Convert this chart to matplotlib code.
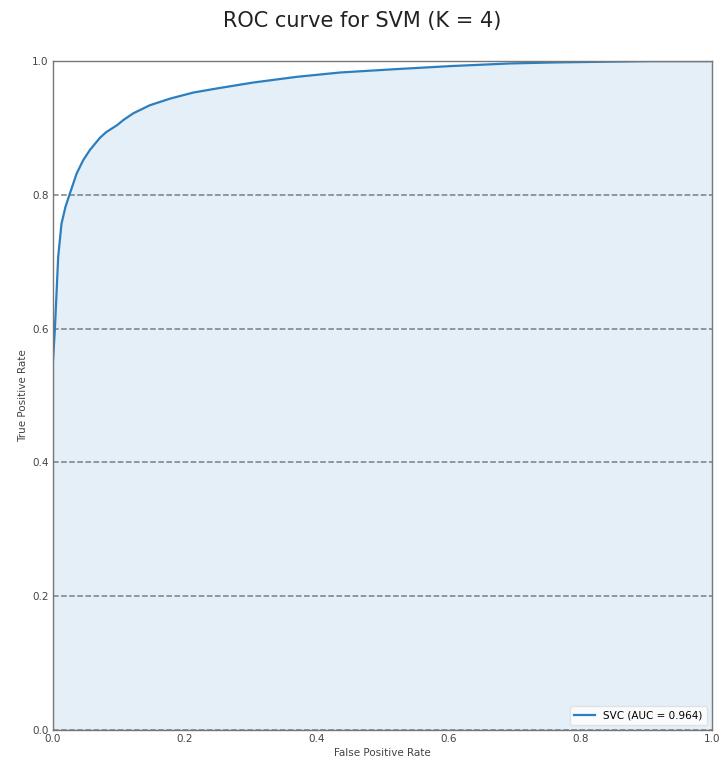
import numpy as np
import matplotlib
matplotlib.use('Agg')
import matplotlib.pyplot as plt

# ROC points
fpr = [0.0, 0.0, 0.0, 0.003, 0.008, 0.013, 0.019, 0.025, 0.036, 0.046, 0.056,
       0.071, 0.081, 0.097, 0.107, 0.122, 0.147, 0.178, 0.213, 0.248, 0.279,
       0.304, 0.339, 0.370, 0.436, 0.52, 0.602, 0.693, 0.76, 0.83, 0.906, 1.0]
tpr = [0.0, 0.4, 0.55, 0.6, 0.7075, 0.757, 0.782, 0.8, 0.832, 0.852, 0.867,
       0.885, 0.894, 0.904, 0.912, 0.922, 0.934, 0.944, 0.953, 0.959, 0.964,
       0.968, 0.9725, 0.9765, 0.983, 0.988, 0.9925, 0.9965, 0.998, 0.999, 1.0, 1.0]
auc = 0.964
ticks = [0.0, 0.2, 0.4, 0.6, 0.8, 1.0]

fig = plt.figure(figsize=(7.25, 7.64), dpi=100)
ax = fig.add_axes([0.073, 0.0445, 0.909, 0.8755])

ax.plot(fpr, tpr, color='#2b7fc0', lw=1.6, label='SVC (AUC = %.3f)' % auc)
ax.fill_between(fpr, tpr, color='#2b7fc0', alpha=0.12, lw=0)

for t in ticks:
    ax.axhline(t, color='gray', ls='--', lw=1.1, zorder=0)

ax.set_xlim(0, 1)
ax.set_ylim(0, 1)
ax.set_xticks(ticks)
ax.set_yticks(ticks)
ax.tick_params(length=0, labelsize=7.5, colors='#444444', pad=3)
for s in ax.spines.values():
    s.set_color('#777777')
    s.set_linewidth(1.0)

ax.set_xlabel('False Positive Rate', fontsize=7.5, color='#444444', labelpad=3)
ax.set_ylabel('True Positive Rate', fontsize=7.5, color='#444444', labelpad=3)
ax.legend(loc='lower right', fontsize=7.5, framealpha=0.8, edgecolor='#dddddd')

fig.suptitle('ROC curve for SVM (K = 4)', fontsize=15, color='#222222', y=0.985)

fig.savefig('out.png', dpi=100)
